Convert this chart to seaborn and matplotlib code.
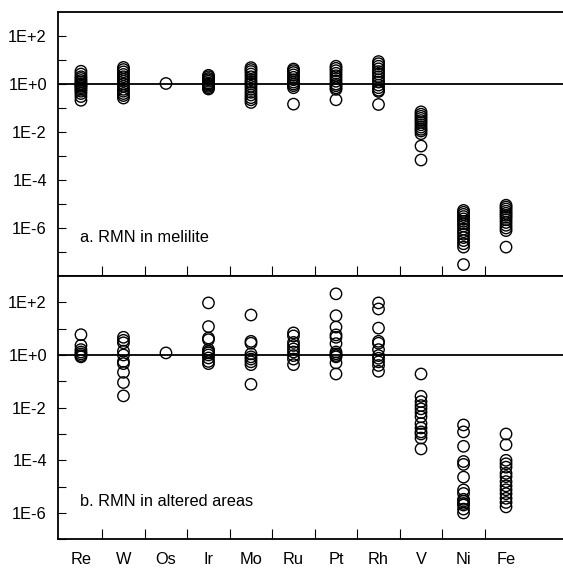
import numpy as np
import pandas as pd
import matplotlib
matplotlib.use("Agg")
import matplotlib.pyplot as plt
import seaborn as sns
from matplotlib.ticker import FixedLocator, NullFormatter, FixedFormatter

sns.set_style("white")
plt.rcParams['font.family'] = ['Liberation Sans', 'DejaVu Sans']

elements = ["Re", "W", "Os", "Ir", "Mo", "Ru", "Pt", "Rh", "V", "Ni", "Fe"]

# a. RMN in melilite
mel_Re = [3.4, 2.6, 2.0, 1.7, 1.4, 1.2, 1.0, 0.9, 0.8, 0.7, 0.6, 0.5, 0.4, 0.3, 0.21]
mel_W = [4.9, 4.0, 3.2, 2.5, 2.0, 1.6, 1.3, 1.0, 0.8, 0.6, 0.5, 0.4, 0.33, 0.26]
mel_Os = [1.05]
mel_Ir = [2.3, 2.0, 1.7, 1.5, 1.3, 1.1, 1.0, 0.9, 0.8, 0.7, 0.62]
mel_Mo = [4.8, 4.0, 3.3, 2.6, 2.0, 1.5, 1.2, 1.0, 0.8, 0.6, 0.45, 0.35, 0.27, 0.22, 0.17]
mel_Ru = [4.2, 3.6, 3.0, 2.4, 1.9, 1.5, 1.2, 1.0, 0.85, 0.7, 0.145]
mel_Pt = [5.5, 4.5, 3.6, 2.8, 2.2, 1.7, 1.3, 1.0, 0.85, 0.7, 0.6, 0.22]
mel_Rh = [8.6, 7.0, 5.5, 4.3, 3.3, 2.6, 2.0, 1.5, 1.2, 0.9, 0.7, 0.55, 0.49, 0.14]
mel_V = [0.069, 0.055, 0.045, 0.037, 0.03, 0.025, 0.02, 0.016, 0.013, 0.011, 0.0085, 0.0026, 0.00068]
mel_Ni = [5.4e-6, 4.5e-6, 3.7e-6, 3.0e-6, 2.4e-6, 1.9e-6, 1.5e-6, 1.2e-6, 9e-7, 7e-7,
          5.5e-7, 4e-7, 3e-7, 2.2e-7, 1.6e-7, 3e-8]
mel_Fe = [8.9e-6, 7.5e-6, 6.2e-6, 5.0e-6, 4.1e-6, 3.4e-6, 2.8e-6, 2.2e-6, 1.7e-6, 1.3e-6,
          1.0e-6, 7.8e-7, 1.6e-7]

# b. RMN in altered areas
alt_Re = [5.9, 2.3, 1.6, 1.3, 1.1, 0.95, 0.85]
alt_W = [4.7, 3.6, 2.9, 1.4, 1.0, 0.57, 0.47, 0.22, 0.09, 0.028]
alt_Os = [1.2]
alt_Ir = [95, 12, 4.4, 3.8, 1.6, 1.35, 1.2, 1.0, 0.77, 0.57, 0.47]
alt_Mo = [33, 3.3, 2.8, 1.1, 0.85, 0.7, 0.55, 0.43, 0.077]
alt_Ru = [6.9, 5.3, 3.0, 2.3, 1.7, 1.3, 0.95, 0.7, 0.43]
alt_Pt = [210, 31, 11.5, 5.8, 4.7, 2.7, 1.3, 1.1, 0.95, 0.85, 0.5, 0.19]
alt_Rh = [95, 56, 10.5, 3.3, 2.8, 1.6, 0.95, 0.75, 0.55, 0.4, 0.24]
alt_V = [0.19, 0.027, 0.017, 0.012, 0.009, 0.0065, 0.0045, 0.0025, 0.0017, 0.0012, 0.001, 0.0007, 0.00027]
alt_Ni = [0.0022, 0.0012, 0.00034, 9e-5, 7e-5, 2.3e-5, 7.5e-6, 5.5e-6, 3.3e-6, 2.8e-6,
          2.3e-6, 2.0e-6, 1.4e-6, 1.0e-6]
alt_Fe = [0.001, 0.00039, 1e-4, 7.4e-5, 5.5e-5, 3.2e-5, 2.4e-5, 1.55e-5, 1.07e-5, 7.6e-6,
          5.4e-6, 3.6e-6, 2.5e-6, 1.7e-6]

melilite = [mel_Re, mel_W, mel_Os, mel_Ir, mel_Mo, mel_Ru, mel_Pt, mel_Rh, mel_V, mel_Ni, mel_Fe]
altered = [alt_Re, alt_W, alt_Os, alt_Ir, alt_Mo, alt_Ru, alt_Pt, alt_Rh, alt_V, alt_Ni, alt_Fe]

major_labels = ["1E+2", "1E+0", "1E-2", "1E-4", "1E-6"]


def to_df(groups):
    rows = []
    for el, vals in zip(elements, groups):
        for v in vals:
            rows.append((el, v))
    return pd.DataFrame(rows, columns=["element", "value"])


fig = plt.figure(figsize=(5.63, 5.69), dpi=100)
W, H = 563.0, 569.0
left = 58 / W
ax_a = fig.add_axes([left, 1 - 276 / H, 1 - left, (276 - 12) / H])
ax_b = fig.add_axes([left, 1 - 539.3 / H, 1 - left, (539.3 - 276) / H])

panels = [
    (ax_a, melilite, (1e-8, 1e3), "a. RMN in melilite", 0.145),
    (ax_b, altered, (1e-7, 1e3), "b. RMN in altered areas", 0.142),
]

FS = 11.8

for ax, groups, ylim, label, ty in panels:
    df = to_df(groups)
    sns.stripplot(data=df, x="element", y="value", order=elements, jitter=False,
                  size=8.2, linewidth=1.0, ax=ax, native_scale=False)
    for c in ax.collections:
        c.set_facecolor("none")
        c.set_edgecolor("black")
        c.set_linewidth(1.0)
    ax.set_yscale("log")
    ax.set_ylim(*ylim)
    ax.set_xlim(-0.54, 11.34)
    ax.axhline(1.0, color="black", lw=1.3, zorder=0)
    ax.set_xlabel("")
    ax.set_ylabel("")
    # y ticks
    ax.yaxis.set_major_locator(FixedLocator([1e2, 1e0, 1e-2, 1e-4, 1e-6]))
    ax.yaxis.set_major_formatter(FixedFormatter(major_labels))
    ax.yaxis.set_minor_locator(FixedLocator([1e1, 1e-1, 1e-3, 1e-5, 1e-7]))
    ax.yaxis.set_minor_formatter(NullFormatter())
    ax.tick_params(axis="y", which="both", direction="in", length=6, width=0.8,
                   left=True, right=False, labelsize=FS, pad=8, colors="black")
    # x ticks: labels at categories, tick marks between categories
    ax.xaxis.set_major_locator(FixedLocator(list(range(len(elements)))))
    ax.xaxis.set_minor_locator(FixedLocator([i + 0.5 for i in range(len(elements) - 1)]))
    ax.tick_params(axis="x", which="major", length=0, labelsize=FS, pad=9.5, colors="black")
    ax.tick_params(axis="x", which="minor", direction="in", length=7, width=0.8,
                   bottom=True, top=False, colors="black")
    for side in ["left", "top", "bottom"]:
        ax.spines[side].set_visible(True)
        ax.spines[side].set_color("black")
        ax.spines[side].set_linewidth(1.3)
    ax.spines["right"].set_visible(False)
    ax.text(0.0436, ty, label, transform=ax.transAxes, fontsize=FS,
            ha="left", va="center", color="black")
    ax.grid(False)

ax_a.set_xticklabels([])
ax_b.set_xticks(range(len(elements)))
ax_b.set_xticklabels(elements)

fig.savefig("out.png", dpi=100)
